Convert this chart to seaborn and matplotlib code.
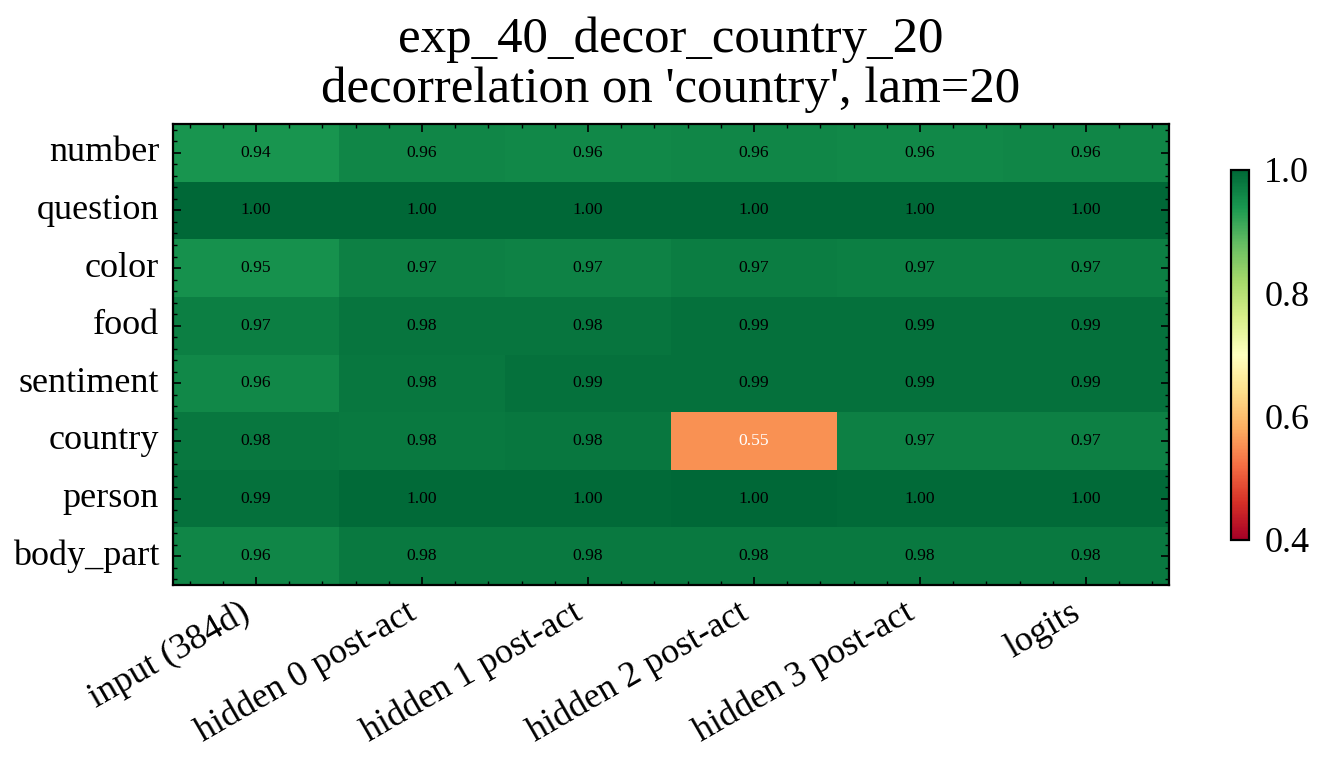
import numpy as np
import pandas as pd
import matplotlib
matplotlib.use("Agg")
import matplotlib.pyplot as plt
import matplotlib.transforms as mtransforms
from matplotlib.ticker import AutoMinorLocator
import seaborn as sns

rows = ["number", "question", "color", "food", "sentiment", "country", "person", "body_part"]
cols = ["input (384d)", "hidden 0 post-act", "hidden 1 post-act", "hidden 2 post-act",
        "hidden 3 post-act", "logits"]

number = [0.942, 0.962, 0.958, 0.961, 0.960, 0.962]
question = [0.998, 0.999, 0.999, 0.999, 0.999, 0.998]
color = [0.948, 0.968, 0.966, 0.972, 0.970, 0.970]
food = [0.970, 0.982, 0.983, 0.986, 0.986, 0.986]
sentiment = [0.958, 0.980, 0.987, 0.988, 0.988, 0.986]
country = [0.980, 0.978, 0.980, 0.553, 0.968, 0.968]
person = [0.988, 0.996, 0.997, 0.998, 0.996, 0.997]
body_part = [0.962, 0.978, 0.978, 0.978, 0.978, 0.978]

data = pd.DataFrame([number, question, color, food, sentiment, country, person, body_part],
                    index=rows, columns=cols)

plt.rcParams["font.family"] = ["Liberation Serif", "DejaVu Serif"]
plt.rcParams["mathtext.fontset"] = "stix"
plt.rcParams["text.color"] = "black"
plt.rcParams["axes.labelcolor"] = "black"
plt.rcParams["xtick.color"] = "black"
plt.rcParams["ytick.color"] = "black"

fig = plt.figure(figsize=(6.605, 3.82), dpi=200)
W, H = 1321, 764
ax = fig.add_axes([173 / W, 1 - 585 / H, (1169 - 173) / W, (585 - 124) / H])
cax = fig.add_axes([1231 / W, 1 - 540 / H, (1249 - 1231) / W, (540 - 170) / H])

sns.heatmap(data, ax=ax, cbar_ax=cax, cmap="RdYlGn", vmin=0.4, vmax=1.0,
            annot=True, fmt=".2f", annot_kws={"fontsize": 6.3})

vals = data.values.ravel()
for t, v in zip(ax.texts, vals):
    t.set_color("white" if v < 0.6 else "black")

for s in ax.spines.values():
    s.set_visible(True)
    s.set_linewidth(0.8)
    s.set_color("black")

ax.set_xticklabels(cols, rotation=30, ha="right", fontsize=13)
ax.set_yticklabels(rows, rotation=0, fontsize=13, va="center")
off = mtransforms.ScaledTranslation(0, -3 / 200, fig.dpi_scale_trans)
for lbl in ax.get_yticklabels():
    lbl.set_transform(lbl.get_transform() + off)
ax.set_xlabel("")
ax.set_ylabel("")
ax.xaxis.set_minor_locator(AutoMinorLocator(5))
ax.yaxis.set_minor_locator(AutoMinorLocator(5))
ax.tick_params(which="both", direction="in", top=True, right=True, bottom=True, left=True,
               color="black", zorder=5)
ax.tick_params(which="major", length=3, width=0.6)
ax.tick_params(which="minor", length=1.5, width=0.5)
ax.tick_params(axis="y", which="major", pad=5)
ax.tick_params(axis="x", which="major", pad=4)

ax.set_title("exp_40_decor_country_20\ndecorrelation on 'country', lam=20", fontsize=18.3,
             linespacing=1.1, pad=8)

cbar = ax.collections[0].colorbar
cbar.set_ticks([0.4, 0.6, 0.8, 1.0])
cbar.ax.tick_params(length=0, labelsize=13, pad=5.5)
cbar.outline.set_visible(True)
cbar.outline.set_linewidth(0.8)
cbar.outline.set_edgecolor("black")

fig.savefig("out.png", dpi=200)
